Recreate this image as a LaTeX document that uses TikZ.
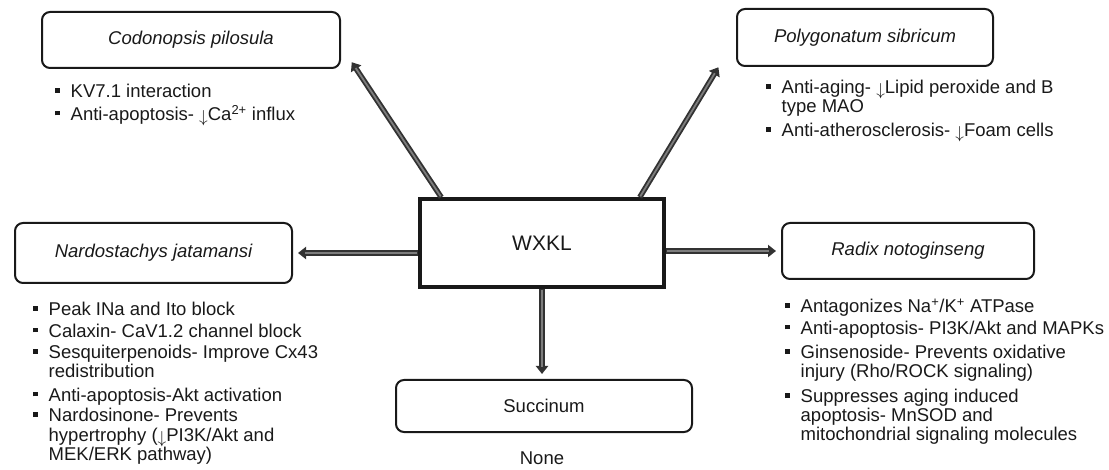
\documentclass[tikz,border=0pt]{standalone}
\usepackage{fontspec}
\setmainfont{Liberation Sans}
\usetikzlibrary{arrows.meta,positioning,calc}
\definecolor{ink}{RGB}{25,25,25}
\definecolor{shaft}{RGB}{50,50,50}
\definecolor{core}{RGB}{125,125,125}
\newcommand{\txtsize}{\fontsize{18.5}{18.5}\selectfont}
\newcommand{\sq}{\rule[5pt]{4.5pt}{4.5pt}}
\newcommand{\dn}{\smash{\raisebox{-2pt}{$\downarrow$}}}
\tikzset{
  >={Triangle[length=8pt,width=12pt]},
  herb/.style={draw=ink,rounded corners=8pt,line width=2pt,minimum width=#1,
    minimum height=56pt,font=\txtsize\itshape,text=ink},
  herb/.default=270pt,
  main/.style={draw=ink,line width=3.5pt,minimum width=244pt,minimum height=88pt,
    font=\fontsize{21}{21}\selectfont,text=ink},
  notes/.style={anchor=base west,inner sep=0pt,align=left,font=\txtsize,text=ink},
  link/.style={->,line width=5.5pt,draw=shaft,shorten >=5pt,
    postaction={draw=core,line width=1.8pt,-,shorten >=12pt,shorten <=1pt}},
}
\begin{document}
\begin{tikzpicture}[x=1pt,y=-1pt]
  \useasboundingbox (0,0) rectangle (1109,470);
  % centre
  \node[main] (wxkl) at (542,243) {WXKL};
  % herbs
  \node[herb=298pt] (codo) at (191,40) {Codonopsis pilosula};
  \node[herb=256pt,minimum height=57pt] (poly) at (865,37.5) {Polygonatum sibricum};
  \node[herb=277pt,minimum height=60pt] (nardo) at (153.5,253) {Nardostachys jatamansi};
  \node[herb=252pt] (radix) at (908,251) {Radix notoginseng};
  \node[herb=296pt,minimum height=52pt,font=\txtsize] (succ) at (544,406) {Succinum};
  % effects
  \node[notes] (codo-n) at (55,98) {\begin{tabular}[t]{@{}l@{\hspace{11pt}}l@{}}
    \sq & KV7.1 interaction\\[1.5pt]
    \sq & Anti-apoptosis- \dn Ca\textsuperscript{2+} influx
  \end{tabular}};
  \node[notes] (poly-n) at (766,94) {\begin{tabular}[t]{@{}l@{\hspace{11pt}}l@{}}
    \sq & Anti-aging- \dn Lipid peroxide and B\\
        & type MAO\\[5.5pt]
    \sq & Anti-atherosclerosis- \dn Foam cells
  \end{tabular}};
  \node[notes] (nardo-n) at (33,316) {\begin{tabular}[t]{@{}l@{\hspace{11pt}}l@{}}
    \sq & Peak INa and Ito block\\[2.5pt]
    \sq & Calaxin- CaV1.2 channel block\\[2.5pt]
    \sq & Sesquiterpenoids- Improve Cx43\\
        & redistribution\\[4.5pt]
    \sq & Anti-apoptosis-Akt activation\\[1.5pt]
    \sq & Nardosinone- Prevents\\[1pt]
        & hypertrophy (\dn PI3K/Akt and\\
        & MEK/ERK pathway)
  \end{tabular}};
  \node[notes] (radix-n) at (785,313) {\begin{tabular}[t]{@{}l@{\hspace{11pt}}l@{}}
    \sq & Antagonizes Na\textsuperscript{+}/K\textsuperscript{+} ATPase\\[2.5pt]
    \sq & Anti-apoptosis- PI3K/Akt and MAPKs\\[5.5pt]
    \sq & Ginsenoside- Prevents oxidative\\
        & injury (Rho/ROCK signaling)\\[6pt]
    \sq & Suppresses aging induced\\
        & apoptosis- MnSOD and\\
        & mitochondrial signaling molecules
  \end{tabular}};
  \node[font=\txtsize,text=ink] (none) at (542,458) {None};
  % arrows
  \draw[link] ([xshift=23pt]wxkl.north west) -- ([xshift=8pt,yshift=11pt]codo.south east);
  \draw[link] ([xshift=-26pt]wxkl.north east) -- ([xshift=-15pt,yshift=4pt]poly.south west);
  \draw[link] (wxkl.west |- nardo.east) -- (nardo.east);
  \draw[link] (wxkl.east |- radix.west) -- (radix.west);
  \draw[link] (wxkl.south) -- (wxkl.south |- succ.north);
\end{tikzpicture}
\end{document}
